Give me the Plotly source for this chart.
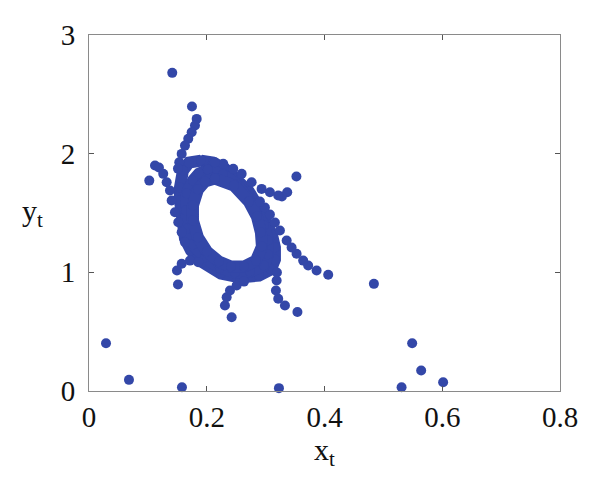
import plotly.graph_objects as go

ring_outer_x = [0.1902, 0.2105, 0.2309, 0.2513, 0.2716, 0.2869, 0.3022, 0.3107, 0.3158, 0.3158, 0.3090,
                0.2886, 0.2564, 0.2241, 0.1935, 0.1732, 0.1630, 0.1579, 0.1545, 0.1545, 0.1596, 0.1698]
ring_outer_y = [1.942, 1.925, 1.874, 1.790, 1.681, 1.554, 1.420, 1.318, 1.209, 1.108, 1.024,
                0.973, 0.956, 0.990, 1.083, 1.184, 1.285, 1.436, 1.605, 1.714, 1.858, 1.925]

ring_mid_x = [0.2020, 0.2275, 0.2513, 0.2699, 0.2852, 0.2971, 0.3039, 0.3039, 0.2971, 0.2733,
              0.2479, 0.2224, 0.1969, 0.1766, 0.1681, 0.1647, 0.1664, 0.1766, 0.1868]
ring_mid_y = [1.866, 1.824, 1.740, 1.639, 1.521, 1.394, 1.268, 1.150, 1.057, 1.007,
              0.998, 1.040, 1.125, 1.234, 1.369, 1.521, 1.664, 1.773, 1.832]

ring_inner_x = [0.2139, 0.2462, 0.2716, 0.2852, 0.2920, 0.2937, 0.2835, 0.2632, 0.2411, 0.2207,
                0.2003, 0.1851, 0.1766, 0.1766, 0.1851, 0.1969]
ring_inner_y = [1.790, 1.731, 1.596, 1.470, 1.335, 1.217, 1.099, 1.049, 1.049, 1.091,
                1.175, 1.293, 1.436, 1.563, 1.698, 1.765]

# Arms and isolated points
points_x = [
    # isolated / top arm
    0.1414, 0.1749, 0.1829, 0.1800, 0.1744, 0.1686, 0.1630, 0.1574, 0.1533, 0.1511,
    # left arm
    0.1024, 0.1121, 0.1188, 0.1261, 0.1319, 0.1375, 0.1404, 0.1460, 0.1516, 0.1574, 0.1630,
    # left-bottom arm
    0.1511, 0.1494, 0.1574, 0.1715, 0.1856,
    # bottom arm
    0.2423, 0.2309, 0.2338, 0.2394, 0.2508, 0.2632,
    # bottom-right arm
    0.3540, 0.3328, 0.3214, 0.3175, 0.3187, 0.3192,
    # right outer row
    0.4063, 0.3866, 0.3723, 0.3638, 0.3526, 0.3441, 0.3357, 0.3243, 0.3158, 0.3073, 0.2988, 0.2903,
    # top-right hook row
    0.3523, 0.3367, 0.3277, 0.3214, 0.3073, 0.2932, 0.2762, 0.2593, 0.2450, 0.2280, 0.2139,
    # scattered
    0.4839, 0.0289, 0.0679, 0.1579, 0.3226, 0.5309, 0.5489, 0.5642, 0.6015,
]
points_y = [
    2.681, 2.397, 2.293, 2.237, 2.180, 2.125, 2.068, 1.998, 1.928, 1.874,
    1.773, 1.900, 1.883, 1.830, 1.759, 1.689, 1.605, 1.506, 1.422, 1.338, 1.254,
    0.897, 1.015, 1.072, 1.099, 1.085,
    0.622, 0.720, 0.790, 0.847, 0.889, 0.922,
    0.666, 0.720, 0.777, 0.847, 0.931, 0.998,
    0.979, 1.015, 1.057, 1.099, 1.156, 1.209, 1.268, 1.352, 1.420, 1.487, 1.546, 1.596,
    1.807, 1.675, 1.639, 1.647, 1.675, 1.703, 1.759, 1.830, 1.872, 1.914, 1.928,
    0.903, 0.403, 0.094, 0.032, 0.024, 0.032, 0.403, 0.173, 0.074,
]

x_ticks = [0, 0.2, 0.4, 0.6, 0.8]
x_tick_labels = ["0", "0.2", "0.4", "0.6", "0.8"]
y_ticks = [0, 1, 2, 3]
y_tick_labels = ["0", "1", "2", "3"]

DOT = "#3347a8"
FONT = "Liberation Serif"

fig = go.Figure()
for lx, ly in [(ring_outer_x, ring_outer_y), (ring_mid_x, ring_mid_y), (ring_inner_x, ring_inner_y)]:
    fig.add_trace(go.Scatter(
        x=lx + lx[:1], y=ly + ly[:1], mode="lines+markers",
        line=dict(color=DOT, width=12),
        marker=dict(color=DOT, size=10),
        showlegend=False, hoverinfo="skip", cliponaxis=False))

fig.add_trace(go.Scatter(
    x=points_x, y=points_y, mode="markers",
    marker=dict(color=DOT, size=10),
    showlegend=False, cliponaxis=False))

axis_common = dict(
    showline=True, linecolor="#8a8a8a", linewidth=1, mirror="ticks",
    ticks="inside", ticklen=5, tickcolor="#555555", tickwidth=1,
    showgrid=False, zeroline=False, automargin=False,
    tickfont=dict(family=FONT, size=29, color="#111111"),
)

# page body has an 8px margin, so the figure is sized to fit inside the window
fig.update_layout(
    width=592, height=486,
    margin=dict(l=81, r=40, t=27, b=103),
    paper_bgcolor="white", plot_bgcolor="white",
    xaxis=dict(range=[0, 0.8], tickvals=x_ticks, ticktext=x_tick_labels,
               ticklabelstandoff=0,
               title=dict(text="x<sub>t</sub>", font=dict(family=FONT, size=30, color="#111111"),
                          standoff=4),
               **axis_common),
    yaxis=dict(range=[0, 3], tickvals=y_ticks, ticktext=y_tick_labels,
               ticklabelstandoff=7,
               **axis_common),
    annotations=[dict(text="y<sub>t</sub>", xref="paper", yref="paper",
                      x=-0.121, y=0.5, xanchor="center", yanchor="middle",
                      showarrow=False, font=dict(family=FONT, size=30, color="#111111"))],
)

fig.write_html("out.html")
